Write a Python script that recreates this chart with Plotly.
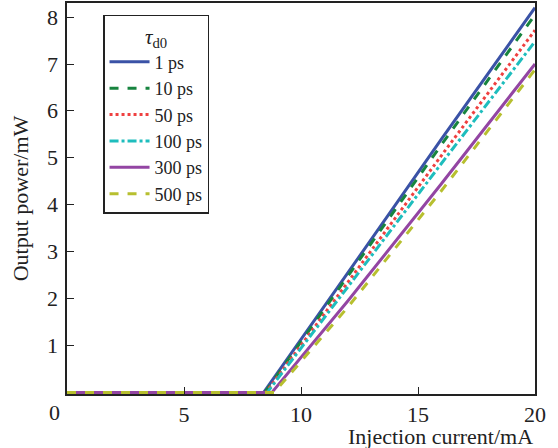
import plotly.graph_objects as go

# Data
labels = ["1 ps", "10 ps", "50 ps", "100 ps", "300 ps", "500 ps"]
current_1 = [0, 8.4, 12, 16, 20]
power_1 = [0, 0, 2.55, 5.40, 8.20]
current_10 = [0, 8.45, 12, 16, 20]
power_10 = [0, 0, 2.48, 5.28, 8.05]
current_50 = [0, 8.5, 12, 16, 20]
power_50 = [0, 0, 2.35, 5.05, 7.72]
current_100 = [0, 8.55, 12, 16, 20]
power_100 = [0, 0, 2.25, 4.88, 7.48]
current_300 = [0, 8.75, 12, 16, 20]
power_300 = [0, 0, 1.95, 4.45, 7.00]
current_500 = [0, 8.85, 12, 16, 20]
power_500 = [0, 0, 1.82, 4.30, 6.88]

x_ticks = [5, 10, 15, 20]
y_ticks = [1, 2, 3, 4, 5, 6, 7, 8]
y_range = [-0.03, 8.3]

series = [
    (current_1, power_1, "#3a52a6", "solid"),
    (current_10, power_10, "#17843f", "dash"),
    (current_50, power_50, "#ef4040", "dot"),
    (current_100, power_100, "#1ebdbd", "dashdot"),
    (current_300, power_300, "#9345a3", "solid"),
    (current_500, power_500, "#b7bf2f", "dash"),
]

font_family = "Liberation Serif, Times New Roman, serif"
fs = 22
tick_font = dict(family=font_family, size=fs, color="#222")

fig = go.Figure()
for lab, (cx, py, col, dash) in zip(labels, series):
    fig.add_trace(go.Scatter(x=cx, y=py, mode="lines", name=lab,
                             line=dict(color=col, width=3, dash=dash)))

fig.update_layout(
    width=558, height=448,
    margin=dict(l=67, r=23, t=1, b=54),
    paper_bgcolor="white", plot_bgcolor="white",
    font=dict(family=font_family, size=fs, color="#222"),
    showlegend=True,
    legend=dict(
        x=0.077, y=0.97, xanchor="left", yanchor="top",
        bordercolor="#222", borderwidth=1.5, bgcolor="white",
        font=dict(family=font_family, size=18, color="#222"),
        title=dict(text="<i>τ</i><sub>d0</sub>", side="top center",
                   font=dict(family=font_family, size=21)),
        tracegroupgap=0, itemwidth=40,
    ),
)
fig.update_xaxes(
    range=[0, 20], tickvals=x_ticks, ticks="inside", ticklen=7,
    tickcolor="#222", showline=True, linecolor="#222", linewidth=2,
    mirror=True, showgrid=False, zeroline=False, tickfont=tick_font,
)
fig.update_yaxes(
    range=y_range, tickvals=y_ticks, ticks="inside", ticklen=7,
    tickcolor="#222", showline=True, linecolor="#222", linewidth=2,
    mirror=True, showgrid=False, zeroline=False, showticklabels=False,
    title=dict(text="Output power/mW", standoff=30, font=tick_font),
)
# y tick labels placed on the y scale, close to the axis line
for v in y_ticks:
    fig.add_annotation(text=str(v), xref="paper", yref="y", x=-0.014, y=v,
                       showarrow=False, xanchor="right", yanchor="middle",
                       font=tick_font)
fig.add_annotation(text="0", xref="paper", yref="paper", x=-0.026, y=-0.01,
                   showarrow=False, xanchor="center", yanchor="top",
                   font=tick_font)
fig.add_annotation(text="Injection current/mA", xref="paper", yref="paper",
                   x=1.0, y=-0.071, showarrow=False, xanchor="right",
                   yanchor="top", font=tick_font)

fig.write_html("out.html", config={"displayModeBar": False},
               post_script="document.body.style.margin='0';")
